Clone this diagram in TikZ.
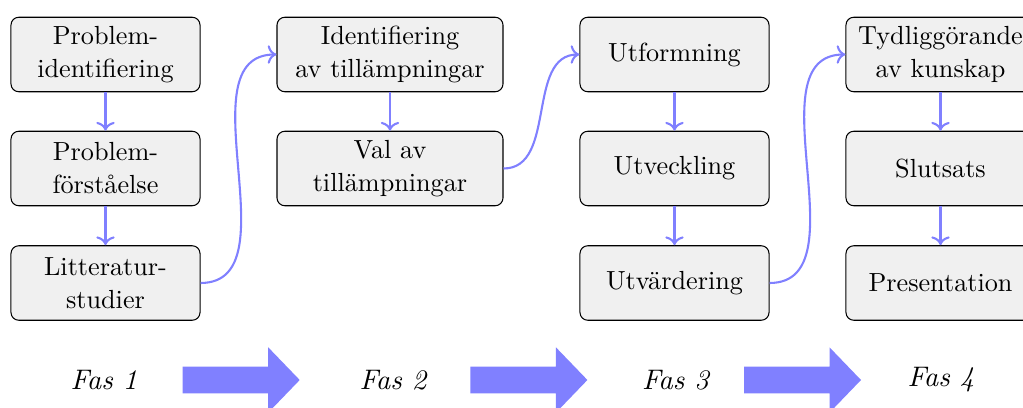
\documentclass[tikz,border=0pt]{standalone}
\usetikzlibrary{arrows.meta}
\begin{document}
\begin{tikzpicture}[x=0.3817pt,y=-0.3817pt,
  box/.style={draw=black, line width=0.4pt, fill=black!6, rounded corners=3pt,
    minimum height=1cm, text width=65.5pt, align=center, inner sep=3.333pt,
    font=\fontsize{10}{12.6}\selectfont},
  widebox/.style={text width=79.6pt},
  link/.style={draw=blue!50, line width=0.8pt, ->},
  fas/.style={font=\fontsize{10.8}{13}\selectfont\itshape, inner sep=2pt},
  bigarrow/.style={fill=blue!50, draw=none}
]
\useasboundingbox (0,0) rectangle (1023,408);

% column 1
\node[box] (p1) at (105.5,54.5) {Problem-\\identifiering};
\node[box] (p2) at (105.5,168.5) {Problem-\\förståelse};
\node[box] (p3) at (105.5,283) {Litteratur-\\studier};
% column 2
\node[box,widebox] (q1) at (390,54.5) {Identifiering\\av tillämpningar};
\node[box,widebox] (q2) at (390,168.5) {Val av\\tillämpningar};
% column 3
\node[box] (r1) at (674.5,54.5) {Utformning};
\node[box] (r2) at (674.5,168.5) {Utveckling};
\node[box] (r3) at (674.5,283) {Utvärdering};
% column 4
\node[box] (s1) at (940.5,54.5) {Tydliggörande\\av kunskap};
\node[box] (s2) at (940.5,168.5) {Slutsats};
\node[box] (s3) at (940.5,283) {Presentation};

% vertical links
\draw[link] (p1) -- (p2);
\draw[link] (p2) -- (p3);
\draw[link] (q1) -- (q2);
\draw[link] (r1) -- (r2);
\draw[link] (r2) -- (r3);
\draw[link] (s1) -- (s2);
\draw[link] (s2) -- (s3);

% curved links
\draw[link] (p3.east) to[out=0,in=180] (q1.west);
\draw[link] (q2.east) to[out=0,in=180] (r1.west);
\draw[link] (r3.east) to[out=0,in=180] (s1.west);

% phase labels
\node[fas] (f1) at (104,380) {Fas 1};
\node[fas] (f2) at (393,380) {Fas 2};
\node[fas] (f3) at (675.5,380) {Fas 3};
\node[fas] (f4) at (941,380) {Fas 4};

% big arrows
\foreach \sx in {182.7,470.4,744} {
  \fill[bigarrow] (\sx,366.7) -- ++(85.5,0) -- ++(0,-19.4) -- ++(31.5,32.7)
    -- ++(-31.5,32.7) -- ++(0,-19.4) -- ++(-85.5,0) -- cycle;
}
\end{tikzpicture}
\end{document}
